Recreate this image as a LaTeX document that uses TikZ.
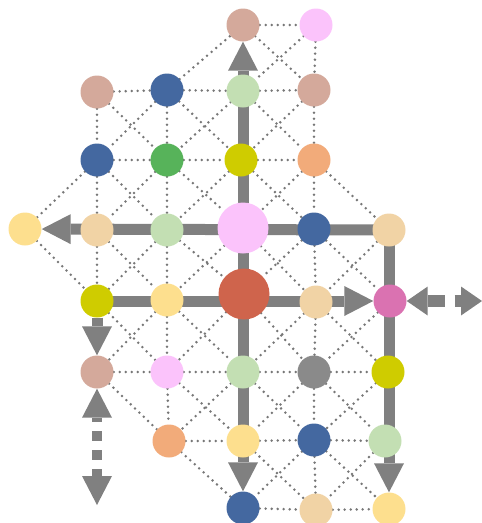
\documentclass[tikz,border=0pt]{standalone}
\usetikzlibrary{arrows.meta}
\pgfdeclarelayer{bg}
\pgfsetlayers{bg,main}
\definecolor{rosy}{HTML}{D4A99B}
\definecolor{pinkl}{HTML}{FBC3FB}
\definecolor{blueb}{HTML}{4468A0}
\definecolor{lgreen}{HTML}{C3DFB3}
\definecolor{greenb}{HTML}{57B35A}
\definecolor{olive}{HTML}{CFCC00}
\definecolor{orangel}{HTML}{F2AB7A}
\definecolor{lyellow}{HTML}{FDDF8E}
\definecolor{tanl}{HTML}{F1D3A5}
\definecolor{redb}{HTML}{CF644C}
\definecolor{magen}{HTML}{DA72B1}
\definecolor{grayn}{HTML}{8A8A8A}
\definecolor{lgray}{HTML}{808080}
\definecolor{dgray}{HTML}{777777}
\begin{document}
\begin{tikzpicture}[x=1pt,y=-1pt,
  dot/.style={circle,inner sep=0pt,minimum size=33pt,fill=#1},
  bigdot/.style={circle,inner sep=0pt,minimum size=51pt,fill=#1},
  dots/.style={draw=dgray,line width=2.8pt,line cap=round,dash pattern=on 0pt off 6pt},
  thickline/.style={draw=lgray,line width=11pt},
  bigtip/.tip={Triangle[length=29pt,width=30pt,line width=0pt]},
  smalltip/.tip={Triangle[length=21pt,width=29pt,line width=0pt]}
]
\useasboundingbox (0,0) rectangle (482,523);
% row 0
\node[dot=rosy] (A1) at (243,25) {};
\node[dot=pinkl] (A2) at (316,25) {};
% row 1
\node[dot=rosy] (B1) at (97,92) {};
\node[dot=blueb] (B2) at (167,90) {};
\node[dot=lgreen] (B3) at (243,91) {};
\node[dot=rosy] (B4) at (314,90) {};
% row 2
\node[dot=blueb] (C1) at (97,160) {};
\node[dot=greenb] (C2) at (167,160) {};
\node[dot=olive] (C3) at (241,160) {};
\node[dot=orangel] (C4) at (314,160) {};
% row 3
\node[dot=lyellow] (D0) at (25,229) {};
\node[dot=tanl] (D1) at (97,230) {};
\node[dot=lgreen] (D2) at (167,230) {};
\node[bigdot=pinkl] (D3) at (243,228) {};
\node[dot=blueb] (D4) at (314,229) {};
\node[dot=tanl] (D5) at (389,230) {};
% row 4
\node[dot=olive] (E1) at (97,301) {};
\node[dot=lyellow] (E2) at (167,300) {};
\node[bigdot=redb] (E3) at (244,294) {};
\node[dot=tanl] (E4) at (316,302) {};
\node[dot=magen] (E5) at (390,301) {};
% row 5
\node[dot=rosy] (F1) at (97,372) {};
\node[dot=pinkl] (F2) at (167,372) {};
\node[dot=lgreen] (F3) at (243,372) {};
\node[dot=grayn] (F4) at (314,372) {};
\node[dot=olive] (F5) at (388,372) {};
% row 6
\node[dot=orangel] (G2) at (169,441) {};
\node[dot=lyellow] (G3) at (243,441) {};
\node[dot=blueb] (G4) at (314,440) {};
\node[dot=lgreen] (G5) at (385,441) {};
% row 7
\node[dot=blueb] (H3) at (243,508) {};
\node[dot=tanl] (H4) at (316,510) {};
\node[dot=lyellow] (H5) at (389,509) {};
\coordinate (Lend) at (97,505);
\coordinate (Rend) at (482,301);
\coordinate (Vtop) at (243,228);
\begin{pgfonlayer}{bg}
% dotted horizontal
\foreach \a/\b in {A1/A2,B1/B2,B2/B3,B3/B4,C1/C2,C2/C3,C3/C4,F1/F2,F2/F3,F3/F4,F4/F5,G2/G3,G3/G4,G4/G5,H3/H4,H4/H5}
  \draw[dots] (\a) -- (\b);
% dotted vertical
\foreach \a/\b in {B1/C1,C1/D1,D1/E1,B2/C2,C2/D2,D2/E2,E2/F2,F2/G2,A2/B4,B4/C4,C4/D4,D4/E4,E4/F4,F4/G4,G4/H4}
  \draw[dots] (\a) -- (\b);
% dotted diagonals
\foreach \a/\b in {B2/A1,A1/B4,A2/B3,B1/C2,B2/C1,B2/C3,B3/C2,B3/C4,B4/C3,
  C1/D0,C1/D2,C2/D1,C2/D3,C3/D2,C3/D4,C4/D3,C4/D5,
  D0/E1,D1/E2,D2/E1,D2/E3,D3/E2,D3/E4,D4/E3,D4/E5,D5/E4,
  E1/F2,E2/F1,E2/F3,E3/F2,E3/F4,E4/F3,E4/F5,E5/F4,
  F1/G2,F2/G3,F3/G2,F3/G4,F4/G3,F4/G5,F5/G4,
  G2/H3,G3/H4,G4/H3,G4/H5,G5/H4}
  \draw[dots] (\a) -- (\b);
% thick connectors
\draw[thickline,-bigtip] (D3.center) -- (A1);
\draw[thickline,-bigtip] (D3.center) -- (H3);
\draw[thickline,-bigtip] (D5.center) -- (D0);
\draw[thickline,-bigtip] (E1.center) -- (E5);
\draw[thickline,-bigtip] (D5.center) -- (H5);
\draw[thickline,-bigtip] (E1) -- (F1);
\draw[draw=lgray,line width=10pt,dash pattern=on 9.5pt off 9.5pt,dash phase=5.5pt,bigtip-bigtip] (F1) -- (Lend);
\draw[draw=lgray,line width=12pt,dash pattern=on 17pt off 10pt,smalltip-smalltip] (E5) -- (Rend);
\end{pgfonlayer}
\end{tikzpicture}
\end{document}
